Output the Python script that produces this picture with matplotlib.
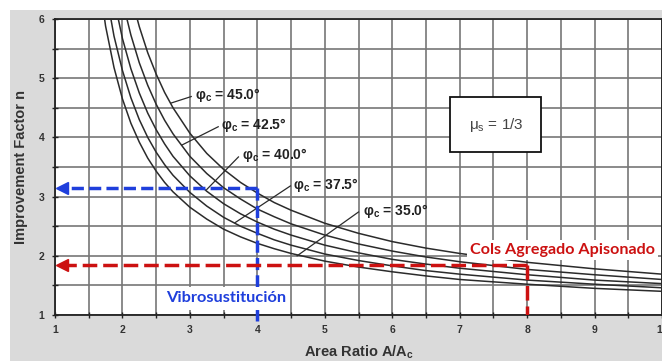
import matplotlib
matplotlib.use("Agg")
import matplotlib.pyplot as plt
from matplotlib.patches import Rectangle

# values (improvement factor n vs area ratio A/Ac, mu_s = 1/3)
area_ratio = [1.6, 1.75, 1.875, 2, 2.125, 2.25, 2.375, 2.5, 2.625, 2.75, 3, 3.25, 3.5,
              3.75, 4, 4.25, 4.5, 5, 5.5, 6, 6.5, 7, 8, 9, 10]
n_phi_35 = [7.10, 5.88, 5.18, 4.65, 4.24, 3.92, 3.65, 3.43, 3.24, 3.08, 2.82, 2.62, 2.45,
            2.32, 2.21, 2.12, 2.04, 1.91, 1.81, 1.73, 1.66, 1.60, 1.52, 1.45, 1.40]
n_phi_375 = [7.87, 6.50, 5.71, 5.13, 4.67, 4.30, 4.00, 3.75, 3.54, 3.36, 3.07, 2.84, 2.65,
             2.50, 2.38, 2.27, 2.18, 2.03, 1.92, 1.83, 1.75, 1.69, 1.59, 1.52, 1.46]
n_phi_40 = [8.76, 7.22, 6.34, 5.67, 5.16, 4.75, 4.41, 4.13, 3.89, 3.68, 3.35, 3.09, 2.88,
            2.71, 2.57, 2.45, 2.35, 2.18, 2.05, 1.94, 1.86, 1.79, 1.68, 1.59, 1.53]
n_phi_425 = [9.79, 8.05, 7.06, 6.31, 5.73, 5.26, 4.88, 4.56, 4.29, 4.06, 3.68, 3.39, 3.15,
             2.96, 2.79, 2.66, 2.54, 2.35, 2.20, 2.08, 1.98, 1.90, 1.77, 1.68, 1.60]
n_phi_45 = [11.0, 9.03, 7.90, 7.06, 6.40, 5.87, 5.43, 5.07, 4.76, 4.50, 4.07, 3.73, 3.46,
            3.24, 3.06, 2.90, 2.77, 2.55, 2.38, 2.24, 2.13, 2.04, 1.89, 1.78, 1.69]
curves = [n_phi_35, n_phi_375, n_phi_40, n_phi_425, n_phi_45]
phi_labels = ["35.0", "37.5", "40.0", "42.5", "45.0"]

# leader lines: (x on curve, n on curve, x at label, n at label)
leaders = [(4.59, 2.00, 5.50, 2.74),
           (3.67, 2.56, 4.49, 3.18),
           (3.25, 3.12, 3.72, 3.67),
           (2.88, 3.87, 3.42, 4.18),
           (2.72, 4.58, 3.02, 4.69)]
label_pos = [(5.56, 2.76), (4.53, 3.20), (3.78, 3.70), (3.46, 4.21), (3.07, 4.72)]

vibro_ratio, vibro_n = 4, 3.15
cols_ratio, cols_n = 8, 1.84

plt.rcParams["font.family"] = ["Liberation Sans", "DejaVu Sans"]

fig = plt.figure(figsize=(6.62, 3.61), dpi=100)
fig.patches.append(Rectangle((10/662, 0), 1 - 10/662, 1 - 10/361, transform=fig.transFigure,
                             facecolor="#dadada", edgecolor="none", zorder=-5))
ax = fig.add_axes([55/662, 1 - 315/361, 607/662, 296/361])
ax.set_facecolor("white")

for n in curves:
    ax.plot(area_ratio, n, color="#2b2b2b", lw=1.1, zorder=3)

for (x0, y0, x1, y1), (tx, ty), lab in zip(leaders, label_pos, phi_labels):
    ax.plot([x0, x1], [y0, y1], color="#2b2b2b", lw=0.9, zorder=3)
    ax.text(tx, ty, "φ" + r"$_\mathregular{c}$ = " + lab + "°", fontsize=10,
            color="#222222", va="center", ha="left", fontweight="bold", zorder=4)

# mu_s box
ax.add_patch(Rectangle((6.86, 3.75), 1.35, 0.93, facecolor="white", edgecolor="#111111",
                       lw=1.3, zorder=6))
ax.text(7.54, 4.21, "μ" + r"$_\mathregular{s}$ = 1/3", fontsize=11, color="#444444",
        ha="center", va="center", zorder=7)

blue = "#1f3fdc"
red = "#cc1111"
ax.plot([vibro_ratio, 1.1], [vibro_n, vibro_n], color=blue, lw=2.5,
        dashes=(3.5, 1.5), zorder=5)
ax.plot([vibro_ratio, vibro_ratio], [vibro_n, 0.9], color=blue, lw=2.5,
        dashes=(3.5, 1.5), zorder=5, clip_on=False)
ax.plot([1.11], [vibro_n], marker="<", ms=9, color=blue, zorder=5)

ax.plot([cols_ratio, 1.1], [cols_n, cols_n], color=red, lw=2.5,
        dashes=(4.2, 1.7), zorder=5)
ax.plot([cols_ratio, cols_ratio], [cols_n, 1.0], color=red, lw=2.5,
        dashes=(4.2, 1.7), zorder=5)
ax.plot([1.11], [cols_n], marker="<", ms=9, color=red, zorder=5)

ax.text(3.54, 1.28, "Vibrosustitución", fontsize=11.8, color=blue, fontweight="bold",
        family=["Lato", "DejaVu Sans"], ha="center", va="center", zorder=7,
        bbox=dict(facecolor="white", edgecolor="none", pad=3))
ax.text(7.15, 2.10, "Cols Agregado Apisonado", fontsize=11.6, color=red, fontweight="bold",
        family=["Lato", "DejaVu Sans"], ha="left", va="center", zorder=7,
        bbox=dict(facecolor="white", edgecolor="none", pad=2))

ax.set_xlim(1, 10)
ax.set_ylim(1, 6)
ax.set_xticks(range(1, 11))
ax.set_yticks(range(1, 7))
ax.set_xticks([i + 0.5 for i in range(1, 10)], minor=True)
ax.set_yticks([i + 0.5 for i in range(1, 6)], minor=True)
ax.grid(which="both", color="#777777", lw=1.2, zorder=0)
ax.set_axisbelow(True)
ax.tick_params(which="both", direction="inout", length=5, width=1, color="#222222")
ax.tick_params(labelsize=7.5, labelcolor="#333333", pad=5)
for lbl in ax.get_xticklabels() + ax.get_yticklabels():
    lbl.set_fontweight("bold")
for s in ax.spines.values():
    s.set_color("#222222")
    s.set_linewidth(1.3)

ax.set_xlabel(r"Area Ratio A/A$_\mathregular{c}$", fontsize=10.5, color="#333333",
              fontweight="bold", labelpad=6)
ax.set_ylabel("Improvement Factor n", fontsize=10.5, color="#333333",
              fontweight="bold", labelpad=8)

plt.savefig("out.png", dpi=100, facecolor="white")
plt.close()
